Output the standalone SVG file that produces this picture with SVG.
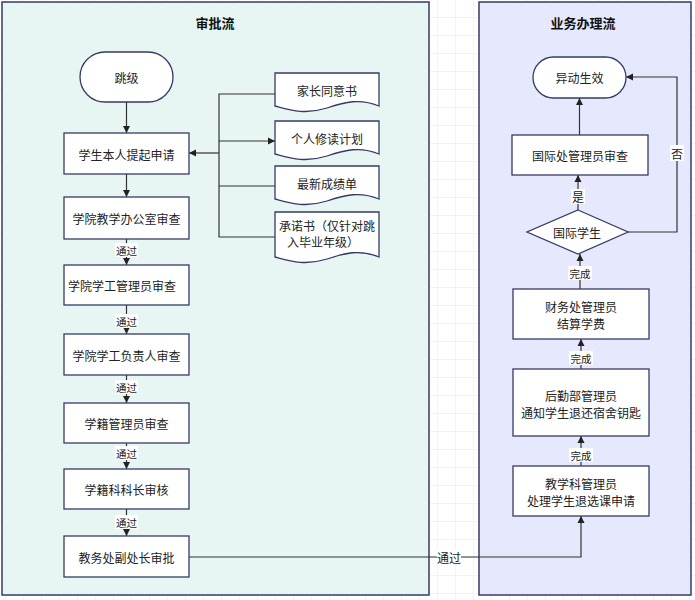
<svg xmlns="http://www.w3.org/2000/svg" width="695" height="600" viewBox="0 0 695 600">
<defs>
<pattern id="grid" width="18" height="18" patternUnits="userSpaceOnUse" x="6" y="0">
<path d="M18 0 V18 M0 18 H18" fill="none" stroke="#e6e6e6" stroke-width="1"/>
</pattern>
<marker id="ah" markerWidth="8" markerHeight="8" refX="7" refY="4" orient="auto" markerUnits="userSpaceOnUse">
<path d="M0,0.5 L7,4 L0,7.5 Z" fill="#222"/>
</marker>
<style>
.pool{stroke:#363b66;stroke-width:1.5}
.box{fill:#fff;stroke:#363b66;stroke-width:1.3}
.t{font-family:"Noto Sans CJK SC","Liberation Sans",sans-serif;font-size:12px;fill:#222;text-anchor:middle;dominant-baseline:central}
.title{font-family:"Noto Sans CJK SC","Liberation Sans",sans-serif;font-size:13px;font-weight:bold;fill:#111;text-anchor:middle;dominant-baseline:central}
.lbl{font-family:"Noto Sans CJK SC","Liberation Sans",sans-serif;font-size:10.5px;fill:#222;text-anchor:middle;dominant-baseline:central}
.lb{fill:#fff}
.e{fill:none;stroke:#333;stroke-width:1.2}
</style>
</defs>
<rect width="695" height="600" fill="#fff"/>
<rect width="695" height="600" fill="url(#grid)"/>

<g id="pool-left">
<rect class="pool" x="2" y="2" width="427" height="593" fill="#e8f6f3"/>
<text class="title" x="215" y="22">审批流</text>
</g>
<g id="pool-right">
<rect class="pool" x="479" y="2" width="212" height="593" fill="#e6e9fd"/>
<text class="title" x="583" y="22">业务办理流</text>
</g>

<g id="connectors">
<path class="e" d="M126.5 102 V133" marker-end="url(#ah)"/>
<path class="e" d="M126.5 174 V197" marker-end="url(#ah)"/>
<path class="e" d="M126.5 239 V265" marker-end="url(#ah)"/>
<path class="e" d="M126.5 305 V334" marker-end="url(#ah)"/>
<path class="e" d="M126.5 375 V403" marker-end="url(#ah)"/>
<path class="e" d="M126.5 443 V469" marker-end="url(#ah)"/>
<path class="e" d="M126.5 509 V536" marker-end="url(#ah)"/>
<path class="e" d="M275 94 H219 V237 H275"/>
<path class="e" d="M219 186 H275"/>
<path class="e" d="M219 153 H189" marker-end="url(#ah)"/>
<path class="e" d="M219 141 H275" marker-end="url(#ah)"/>
<path class="e" d="M189 557 H581 V516" marker-end="url(#ah)"/>
<path class="e" d="M581 466 V436" marker-end="url(#ah)"/>
<path class="e" d="M581 369 V339" marker-end="url(#ah)"/>
<path class="e" d="M580 289 V254" marker-end="url(#ah)"/>
<path class="e" d="M578 210 V175" marker-end="url(#ah)"/>
<path class="e" d="M579.5 135 V98" marker-end="url(#ah)"/>
<path class="e" d="M628 232 H677 V77 H626" marker-end="url(#ah)"/>
<rect class="lb" x="115" y="243" width="23" height="14"/><text class="lbl" x="126.5" y="250">通过</text>
<rect class="lb" x="115" y="314" width="23" height="14"/><text class="lbl" x="126.5" y="321">通过</text>
<rect class="lb" x="115" y="380" width="23" height="14"/><text class="lbl" x="126.5" y="387">通过</text>
<rect class="lb" x="115" y="446" width="23" height="14"/><text class="lbl" x="126.5" y="453">通过</text>
<rect class="lb" x="115" y="515" width="23" height="14"/><text class="lbl" x="126.5" y="522">通过</text>
<rect class="lb" x="437" y="550" width="24" height="14"/><text class="t" x="449" y="557">通过</text>
<rect class="lb" x="569" y="448" width="24" height="14"/><text class="lbl" x="581" y="455">完成</text>
<rect class="lb" x="569" y="351" width="24" height="14"/><text class="lbl" x="581" y="358">完成</text>
<rect class="lb" x="568" y="266" width="24" height="14"/><text class="lbl" x="580" y="273">完成</text>
<rect class="lb" x="571" y="189" width="14" height="15"/><text class="t" x="578" y="196">是</text>
<rect class="lb" x="670" y="145" width="14" height="16"/><text class="t" x="677" y="153">否</text>
</g>

<g id="n-tiaoji"><rect class="box" x="80" y="52" width="93" height="50" rx="25"/><text class="t" x="126.5" y="77">跳级</text></g>
<g id="n-shenqing"><rect class="box" x="64" y="133" width="125" height="41"/><text class="t" x="126.5" y="154">学生本人提起申请</text></g>
<g id="n-jiaoxueban"><rect class="box" x="64" y="197" width="125" height="42"/><text class="t" x="126.5" y="218">学院教学办公室审查</text></g>
<g id="n-xuegongguanli"><rect class="box" x="64" y="265" width="125" height="40"/><text class="t" x="122" y="285">学院学工管理员审查</text></g>
<g id="n-xuegongfuze"><rect class="box" x="64" y="334" width="125" height="41"/><text class="t" x="126.5" y="355">学院学工负责人审查</text></g>
<g id="n-xuejiguanli"><rect class="box" x="64" y="403" width="125" height="40"/><text class="t" x="126.5" y="423">学籍管理员审查</text></g>
<g id="n-kezhang"><rect class="box" x="64" y="469" width="125" height="40"/><text class="t" x="126.5" y="489">学籍科科长审核</text></g>
<g id="n-fuchuzhang"><rect class="box" x="64" y="536" width="125" height="41"/><text class="t" x="126.5" y="557">教务处副处长审批</text></g>

<g id="d-jiazhang"><path class="box" d="M275 73 H379 V106 C360 98 345 102 327 108 C305 115 290 110 275 106 Z"/><text class="t" x="327" y="90">家长同意书</text></g>
<g id="d-xiudu"><path class="box" d="M275 121 H379 V154 C360 146 345 150 327 156 C305 163 290 158 275 154 Z"/><text class="t" x="327" y="138">个人修读计划</text></g>
<g id="d-chengji"><path class="box" d="M275 166 H379 V199 C360 191 345 195 327 201 C305 208 290 203 275 199 Z"/><text class="t" x="327" y="183">最新成绩单</text></g>
<g id="d-chengnuo"><path class="box" d="M275 212 H379 V257 C360 249 345 253 327 259 C305 266 290 261 275 257 Z"/><text class="t" x="327" y="225">承诺书（仅针对跳</text><text class="t" x="323" y="241">入毕业年级）</text></g>

<g id="n-shengxiao"><rect class="box" x="533" y="57" width="93" height="41" rx="20.5"/><text class="t" x="579.5" y="77.5">异动生效</text></g>
<g id="n-guojichu"><rect class="box" x="512" y="135" width="136" height="40"/><text class="t" x="580" y="155">国际处管理员审查</text></g>
<g id="n-guojixuesheng"><path class="box" d="M578 210 L628 232 L578 254 L527 232 Z"/><text class="t" x="577" y="232">国际学生</text></g>
<g id="n-caiwu"><rect class="box" x="513" y="289" width="136" height="50"/><text class="t" x="581" y="306">财务处管理员</text><text class="t" x="581" y="323">结算学费</text></g>
<g id="n-houqin"><rect class="box" x="513" y="369" width="136" height="67"/><text class="t" x="581" y="395">后勤部管理员</text><text class="t" x="581" y="412">通知学生退还宿舍钥匙</text></g>
<g id="n-jiaoxueke"><rect class="box" x="513" y="466" width="136" height="50"/><text class="t" x="581" y="483">教学科管理员</text><text class="t" x="581" y="500">处理学生退选课申请</text></g>
</svg>
